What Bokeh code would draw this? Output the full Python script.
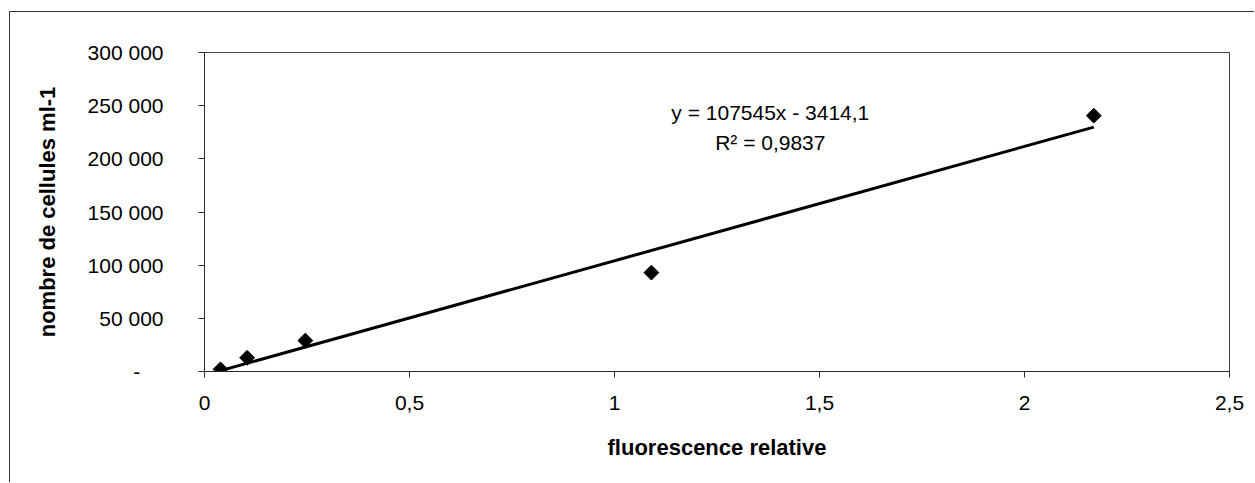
import math
from bokeh.plotting import figure
from bokeh.models import FixedTicker, Label, Range1d
from bokeh.embed import file_html
from bokeh.resources import INLINE

# ---- data ----
fluo = [0.039, 0.104, 0.246, 1.09, 2.169]
cells = [2000, 12900, 29100, 93000, 240600]

slope = 107545
intercept = -3414.1
r_squared = "0,9837"

x_ticks = [0, 0.5, 1, 1.5, 2, 2.5]
x_tick_labels = ["0", "0,5", "1", "1,5", "2", "2,5"]
y_ticks = [0, 50000, 100000, 150000, 200000, 250000, 300000]
y_tick_labels = ["-\u00a0\u00a0\u00a0\u00a0", "50 000", "100 000", "150 000",
                 "200 000", "250 000", "300 000"]

FONT = "Liberation Sans"
INK = "#2b2b2b"

p = figure(width=1245, height=471,
           x_range=Range1d(0, 2.5), y_range=Range1d(0, 300000),
           output_backend="svg", toolbar_location=None,
           min_border_left=194, min_border_right=26,
           min_border_top=40, min_border_bottom=112)
p.margin = (11, 0, 0, 9)
p.styles = {"border-left": "1px solid #333333", "border-top": "1px solid #333333"}

p.background_fill_color = "white"
p.border_fill_color = "white"
p.outline_line_color = "#444444"
p.outline_line_width = 1
p.grid.visible = False

# trendline
trend_x = [min(fluo), max(fluo)]
trend_y = [slope * v + intercept for v in trend_x]
p.line(trend_x, trend_y, line_color="black", line_width=3)

# points
p.scatter(fluo, cells, marker="square", size=10.5, angle=math.pi / 4,
          fill_color="black", line_color="black")

# axes
p.xaxis.ticker = FixedTicker(ticks=x_ticks)
p.xaxis.major_label_overrides = {t: l for t, l in zip(x_ticks, x_tick_labels)}
p.yaxis.ticker = FixedTicker(ticks=y_ticks)
p.yaxis.major_label_overrides = {t: l for t, l in zip(y_ticks, y_tick_labels)}

for ax in (p.xaxis, p.yaxis):
    ax.axis_line_color = INK
    ax.major_tick_line_color = INK
    ax.major_tick_in = 0
    ax.major_tick_out = 6
    ax.minor_tick_line_color = None
    ax.major_label_text_font = FONT
    ax.major_label_text_font_size = "21px"
    ax.major_label_text_color = "black"
    ax.axis_label_text_font = FONT
    ax.axis_label_text_font_size = "22px"
    ax.axis_label_text_font_style = "bold"
    ax.axis_label_text_color = "black"

p.xaxis.axis_label = "fluorescence relative"
p.yaxis.axis_label = "nombre de cellules ml-1"
p.xaxis.major_label_standoff = 18
p.xaxis.axis_label_standoff = 22
p.yaxis.major_label_standoff = 35
p.yaxis.axis_label_standoff = 25

# equation annotation
eq1 = Label(x=1.38, y=243400, text=f"y = {slope}x - {str(abs(intercept)).replace('.', ',')}",
            text_align="center", text_baseline="middle",
            text_font=FONT, text_font_size="21px", text_color="black")
eq2 = Label(x=1.38, y=215200, text=f"R\u00b2 = {r_squared}",
            text_align="center", text_baseline="middle",
            text_font=FONT, text_font_size="21px", text_color="black")
p.add_layout(eq1)
p.add_layout(eq2)

open("out.html", "w").write(file_html(p, INLINE))
